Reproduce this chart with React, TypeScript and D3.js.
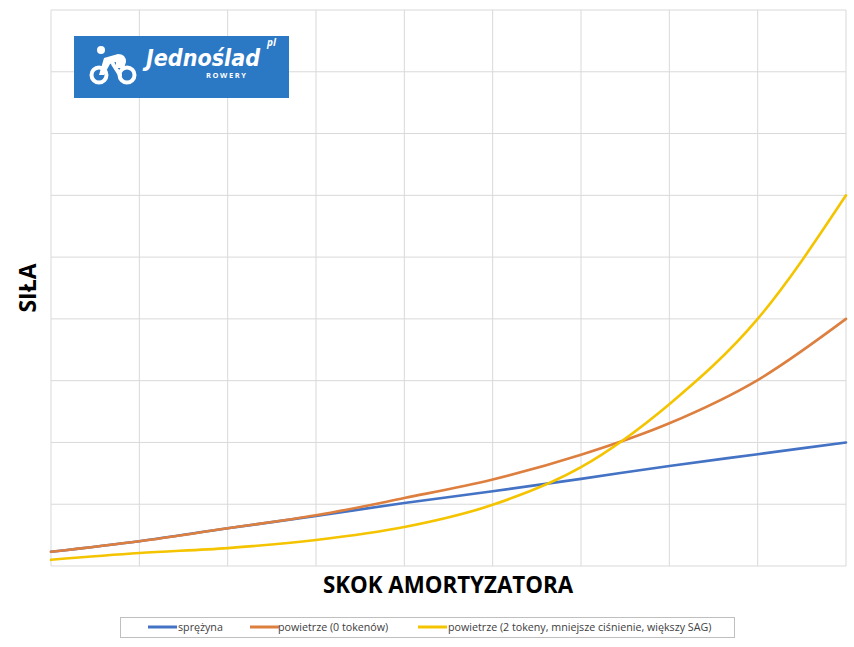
import React from 'react';
import * as d3 from 'd3';

// Stroke positions (x categories) and force values (grid units)
const steps = [0, 1, 2, 3, 4, 5, 6, 7, 8, 9];
const spring = [0.23, 0.4, 0.61, 0.81, 1.02, 1.21, 1.41, 1.62, 1.81, 2.0];
const air0 = [0.23, 0.4, 0.61, 0.82, 1.1, 1.4, 1.8, 2.31, 3.01, 4.0];
const air2 = [0.1, 0.21, 0.29, 0.42, 0.63, 0.99, 1.6, 2.62, 4.0, 6.0];
const yTicks = [0, 1, 2, 3, 4, 5, 6, 7, 8, 9];

const seriesList = [
  { name: 'sprężyna', values: spring, color: '#4472C4' },
  { name: 'powietrze (0 tokenów)', values: air0, color: '#DD7F3F' },
  { name: 'powietrze (2 tokeny, mniejsze ciśnienie, większy SAG)', values: air2, color: '#F5C400' },
];

const W = 854;
const H = 647;
const left = 51;
const right = 846;
const top = 10;
const bottom = 566;

export default function App() {
  const x = d3.scaleLinear().domain([0, 9]).range([left, right]);
  const y = d3.scaleLinear().domain([0, 9]).range([bottom, top]);

  const line = d3
    .line<number>()
    .x((_, i) => x(steps[i]))
    .y((d) => y(d))
    .curve(d3.curveMonotoneX);

  // legend layout
  const legendItems = [
    { lx: 148, tx: 178 },
    { lx: 250, tx: 278 },
    { lx: 418, tx: 448 },
  ];

  return (
    <svg
      width={W}
      height={H}
      style={{ position: 'absolute', left: 0, top: 0, background: '#fff' }}
      fontFamily="'Open Sans', 'DejaVu Sans', sans-serif"
    >
      <rect width={W} height={H} fill="#fff" />

      {/* grid */}
      {yTicks.map((t) => (
        <line key={'h' + t} x1={left} x2={right} y1={y(t)} y2={y(t)} stroke="#d9d9d9" strokeWidth={1} />
      ))}
      {steps.map((s) => (
        <line key={'v' + s} x1={x(s)} x2={x(s)} y1={top} y2={bottom} stroke="#d9d9d9" strokeWidth={1} />
      ))}

      {/* logo */}
      <g>
        <rect x={74} y={36} width={215} height={62} fill="#2B78C5" />
        <circle cx={99} cy={75} r={7.5} fill="none" stroke="#fff" strokeWidth={4} />
        <circle cx={127} cy={75} r={7.5} fill="none" stroke="#fff" strokeWidth={4} />
        <circle cx={101} cy={50} r={4} fill="#fff" />
        <path
          d="M104,58 L118,54 Q126,54 126,62 L124,68 L116,68 L116,62 L110,64 L104,75 L99,75 Z"
          fill="#fff"
        />
        <path d="M113,64 L120,75" stroke="#fff" strokeWidth={4} strokeLinecap="round" fill="none" />
        <text
          x={146}
          y={66}
          fill="#fff"
          fontSize={23}
          fontWeight="bold"
          fontStyle="italic"
          fontFamily="'DejaVu Sans', sans-serif"
          textLength={114}
          lengthAdjust="spacingAndGlyphs"
        >
          Jednoślad
        </text>
        <text x={267} y={46} fill="#fff" fontSize={10} fontStyle="italic" fontWeight="bold">
          pl
        </text>
        <text x={206} y={78} fill="#fff" fontSize={7.5} fontWeight="bold" letterSpacing={1.6}>
          ROWERY
        </text>
      </g>

      {/* series */}
      {seriesList.map((s) => (
        <path
          key={s.name}
          d={line(s.values) || ''}
          fill="none"
          stroke={s.color}
          strokeWidth={2.6}
          strokeLinecap="round"
        />
      ))}

      {/* axis titles */}
      <text
        transform={`translate(36,${(top + bottom) / 2}) rotate(-90)`}
        textAnchor="middle"
        fontSize={23}
        fontWeight="bold"
        fill="#000"
      >
        SIŁA
      </text>
      <text x={448} y={593} textAnchor="middle" fontSize={22.3} fontWeight="bold" fill="#000">
        SKOK AMORTYZATORA
      </text>

      {/* legend */}
      <rect x={120.5} y={617.5} width={614} height={20} fill="#fff" stroke="#bfbfbf" strokeWidth={1} />
      {seriesList.map((s, i) => (
        <g key={'lg' + i}>
          <line
            x1={legendItems[i].lx}
            x2={legendItems[i].lx + 29}
            y1={627}
            y2={627}
            stroke={s.color}
            strokeWidth={3}
          />
          <text x={legendItems[i].tx} y={631} fontSize={10.7} fill="#404040">
            {s.name}
          </text>
        </g>
      ))}
    </svg>
  );
}
